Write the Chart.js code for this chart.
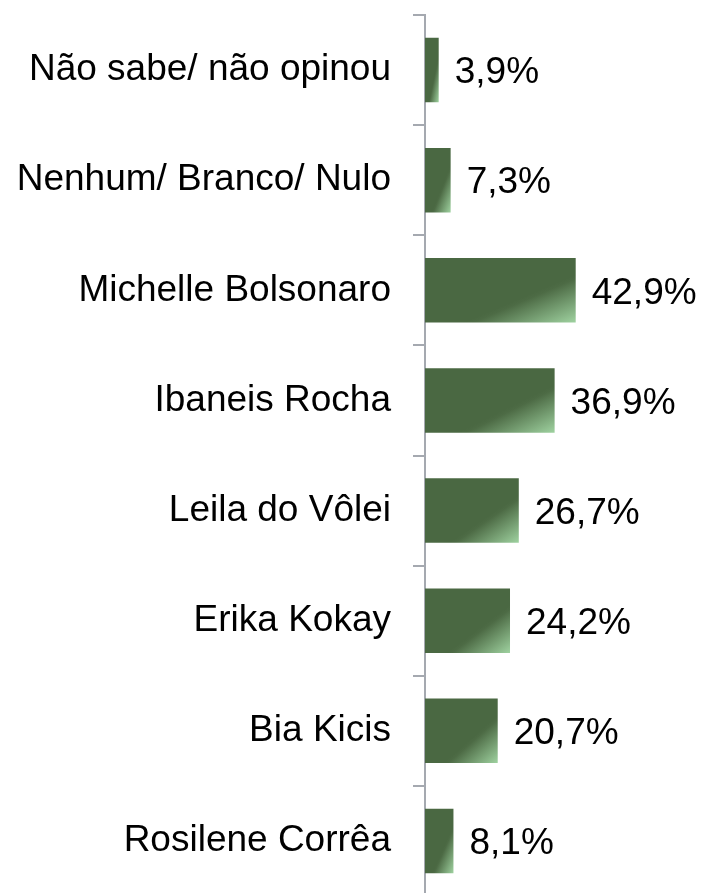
<!DOCTYPE html>
<html>
<head>
<meta charset="utf-8">
<script src="https://cdn.jsdelivr.net/npm/chart.js@4/dist/chart.umd.min.js"></script>
<style>
html,body{margin:0;padding:0;background:#fff;overflow:hidden;}
#wrap{width:702px;height:905px;}
</style>
</head>
<body>
<div id="wrap"><canvas id="c" width="702" height="905"></canvas></div>
<script>
const categories = ["Não sabe/ não opinou","Nenhum/ Branco/ Nulo","Michelle Bolsonaro","Ibaneis Rocha","Leila do Vôlei","Erika Kokay","Bia Kicis","Rosilene Corrêa"];
const values = [3.9, 7.3, 42.9, 36.9, 26.7, 24.2, 20.7, 8.1];

const DARK = '#4a6842';
const LIGHT = '#9fd2a0';
const BAR_PCT = 0.585;
const FONT = {family: "'Liberation Sans', Arial, sans-serif", size: 37};

function barFill(ctx) {
  const chart = ctx.chart;
  const xs = chart.scales.x, ys = chart.scales.y;
  if (!xs || !ys || ctx.dataIndex === undefined || !chart.chartArea) return DARK;
  const v = ctx.raw;
  const x0 = xs.getPixelForValue(0), x1 = xs.getPixelForValue(v);
  const cy = ys.getPixelForValue(ctx.dataIndex);
  const h = (ys.bottom - ys.top) / categories.length * BAR_PCT;
  const w = x1 - x0;
  if (!isFinite(w) || w <= 0 || !isFinite(h) || h <= 0) return DARK;
  const top = cy - h / 2;
  const k = 2 / (1 / (w * w) + 1 / (h * h));
  const g = chart.ctx.createLinearGradient(x0, top, x0 + k / w, top + k / h);
  g.addColorStop(0, DARK);
  g.addColorStop(0.63, DARK);
  g.addColorStop(0.66, '#4d6b45');
  g.addColorStop(1, LIGHT);
  return g;
}

const valueLabels = {
  id: 'valueLabels',
  afterDatasetsDraw(chart) {
    const ctx = chart.ctx;
    const meta = chart.getDatasetMeta(0);
    ctx.save();
    ctx.font = `${FONT.size}px ${FONT.family}`;
    ctx.fillStyle = '#000';
    ctx.textAlign = 'left';
    ctx.textBaseline = 'alphabetic';
    meta.data.forEach((bar, i) => {
      const txt = values[i].toFixed(1).replace('.', ',') + '%';
      ctx.fillText(txt, bar.x + 16, bar.y + 13.3);
    });
    ctx.restore();
  }
};

new Chart(document.getElementById('c'), {
  type: 'bar',
  data: {
    labels: categories,
    datasets: [{
      data: values,
      backgroundColor: barFill,
      borderWidth: 0,
      barPercentage: BAR_PCT,
      categoryPercentage: 1
    }]
  },
  options: {
    indexAxis: 'y',
    responsive: false,
    animation: false,
    devicePixelRatio: 1,
    layout: {padding: {top: 15, bottom: 9, left: 0, right: 3}},
    plugins: {legend: {display: false}, tooltip: {enabled: false}},
    scales: {
      x: {display: false, min: 0, max: 78},
      y: {
        afterFit(scale) {
          scale.width = 425;
          scale.paddingTop = 0;
          scale.paddingBottom = 0;
        },
        grid: {drawOnChartArea: false, drawTicks: true, tickLength: 12, color: '#a5a9b0', lineWidth: 2, offset: true},
        border: {display: true, color: '#a5a9b0', width: 2},
        ticks: {color: '#000', font: FONT, padding: 22, autoSkip: false}
      }
    }
  },
  plugins: [valueLabels]
});
</script>
</body>
</html>
